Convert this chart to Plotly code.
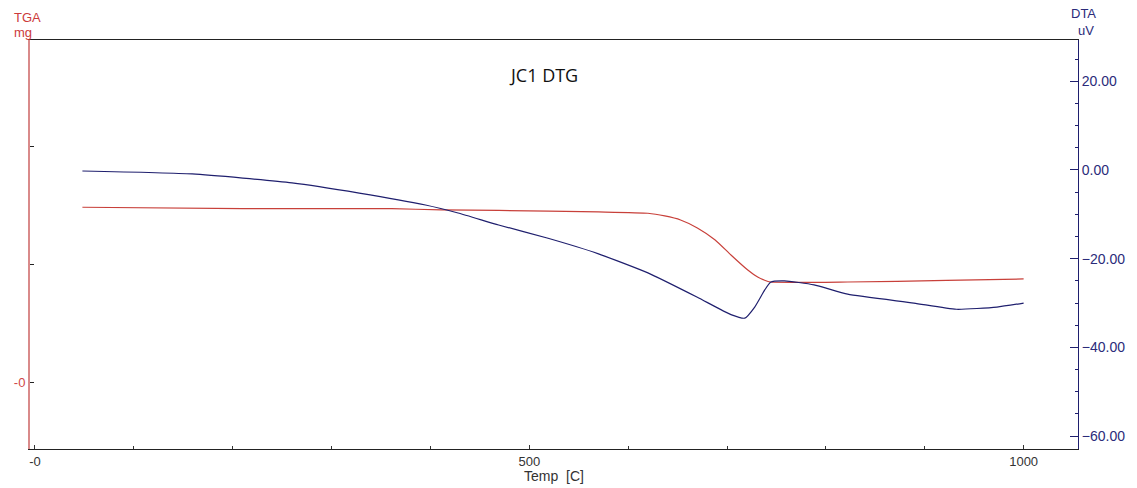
import plotly.graph_objects as go

# DTA (right axis, uV)
dta_temp = [48, 159, 260, 328, 395, 428, 469, 519, 570, 620, 670, 704, 718, 728, 738, 744,
            758, 788, 822, 889, 932, 973, 1000]
dta_uv = [-0.23, -0.9, -2.9, -5.2, -7.9, -9.7, -12.4, -15.4, -18.9, -23.2, -28.7, -32.6,
          -33.4, -30.9, -27.1, -25.3, -25.0, -25.9, -28.0, -30.0, -31.4, -30.9, -30.0]

tga_temp = [48, 210, 361, 411, 469, 570, 620, 637, 653, 670, 688, 704, 721, 731, 738, 744,
            822, 922, 1000]
tga_mg = [1.487, 1.475, 1.475, 1.464, 1.460, 1.447, 1.436, 1.413, 1.379, 1.311, 1.209,
          1.081, 0.953, 0.893, 0.866, 0.851, 0.851, 0.864, 0.877]

x_tickvals = [0, 500, 1000]
x_ticktext = ["-0", "500", "1000"]
tga_tickvals = [0, 1, 2]
tga_ticktext = ["-0", "", ""]

NAVY = "#1f1f6e"
FONT = "Liberation Sans, Arial, sans-serif"

fig = go.Figure()
fig.add_trace(go.Scatter(x=tga_temp, y=tga_mg, mode="lines", yaxis="y",
                         line=dict(color="#c8403a", width=1.2, shape="spline", smoothing=0.5),
                         showlegend=False))
fig.add_trace(go.Scatter(x=dta_temp, y=dta_uv, mode="lines", yaxis="y2",
                         line=dict(color=NAVY, width=1.2, shape="spline", smoothing=0.5),
                         showlegend=False))

fig.update_layout(
    width=1137, height=488,
    margin=dict(l=30, r=55, t=40, b=39),
    paper_bgcolor="white", plot_bgcolor="white",
    font=dict(family=FONT, size=13, color="#333333"),
    xaxis=dict(range=[-5, 1055], showgrid=False, zeroline=False,
               showline=True, linecolor="#222222", linewidth=1, mirror=True,
               tickmode="array", tickvals=x_tickvals, ticktext=x_ticktext,
               ticks="inside", ticklen=4, tickcolor="#333333",
               minor=dict(tickmode="linear", tick0=0, dtick=100, ticks="inside",
                          ticklen=3, tickcolor="#333333"),
               tickfont=dict(family=FONT, size=13, color="#333333")),
    yaxis=dict(range=[-0.57, 2.91], showgrid=False, zeroline=False,
               showline=True, linecolor="#d98a8a", linewidth=2,
               tickmode="array", tickvals=tga_tickvals, ticktext=tga_ticktext,
               ticks="inside", ticklen=4, tickcolor="#222222",
               tickfont=dict(family=FONT, size=13, color="#d04848")),
    yaxis2=dict(range=[-62.9, 29.3], overlaying="y", side="right",
                showgrid=False, zeroline=False,
                showline=True, linecolor=NAVY, linewidth=1,
                dtick=20, tick0=0, tickformat=".2f",
                ticks="inside", ticklen=8, tickcolor=NAVY,
                minor=dict(dtick=5, tick0=0, ticks="inside", ticklen=3, tickcolor=NAVY),
                tickfont=dict(family=FONT, size=14, color="#2b2b7a")),
)

annotations = [
    dict(text="JC1 DTG", x=0.49, y=0.914,
         font=dict(family="Open Sans, Liberation Sans", size=18, color="#111111"),
         xanchor="center", yanchor="middle"),
    dict(text="Temp  [C]", x=0.50, y=-0.066, font=dict(size=14, color="#333333"),
         xanchor="center", yanchor="middle"),
    dict(text="TGA", x=-0.0171, y=1.056, font=dict(size=13, color="#cc3b3b"),
         xanchor="left", yanchor="middle"),
    dict(text="mg", x=-0.0171, y=1.019, font=dict(size=13, color="#cc3b3b"),
         xanchor="left", yanchor="middle"),
    dict(text="DTA", x=1.0048, y=1.064, font=dict(size=13, color="#2b2b7a"),
         xanchor="center", yanchor="middle"),
    dict(text="uV", x=1.0076, y=1.0236, font=dict(size=13, color="#2b2b7a"),
         xanchor="center", yanchor="middle"),
]
for a in annotations:
    a.update(xref="paper", yref="paper", showarrow=False)
fig.update_layout(annotations=annotations)

fig.write_html("out.html")
